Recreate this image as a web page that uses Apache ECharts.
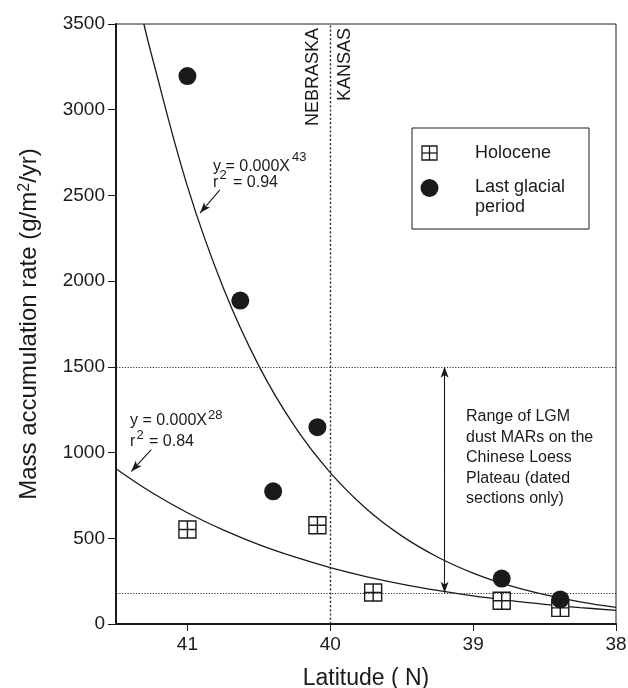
<!DOCTYPE html>
<html><head><meta charset="utf-8">
<script src="https://cdn.jsdelivr.net/npm/echarts@6/dist/echarts.min.js"></script>
<style>html,body{margin:0;padding:0;background:#fff}#c{width:628px;height:688px}</style>
</head><body><div id="c"></div>
<script>
// ---- data ----
const latTicks = [41, 40, 39, 38];
const holoceneLat = [41.00, 40.09, 39.70, 38.80, 38.39];
const holoceneMAR = [551, 576, 184, 136, 94];
const glacialLat = [41.00, 40.63, 40.40, 40.09, 38.80, 38.39];
const glacialMAR = [3196, 1887, 774, 1148, 265, 143];
// fitted curves as drawn
const glacialFitLat = [41.305, 41.25, 41.0, 40.75, 40.5, 40.25, 40.0, 39.75, 39.5, 39.25, 39.0, 38.75, 38.5, 38.25, 38.0];
const glacialFitMAR = [3500, 3316, 2553, 1963, 1506, 1154, 883, 674, 514, 391, 297, 225, 171, 129, 97];
const holoceneFitLat = [41.5, 41.25, 41.0, 40.75, 40.5, 40.25, 40.0, 39.75, 39.5, 39.25, 39.0, 38.75, 38.5, 38.25, 38.0];
const holoceneFitMAR = [906, 767, 649, 549, 463, 391, 329, 277, 233, 196, 164, 138, 115, 96, 80];
// reference lines / annotations (data space)
const loessRange = [182, 1500];
const loessArrowLat = 39.2;
const stateBorderLat = 40;
const glacialEqArrow = [[40.773, 2532], [40.912, 2397]];
const holoceneEqArrow = [[41.253, 1017], [41.393, 890]];

const FONT = "'Liberation Sans', Arial, Helvetica, sans-serif";
const INK = '#1a1a1a';
const zip = (a, b) => a.map((v, i) => [v, b[i]]);
const squareCross = 'path://M0,0H10V10H0Z M5,0V10 M0,5H10';

const chart = echarts.init(document.getElementById('c'), null, {renderer: 'canvas'});

function txt(x, y, text, size, extra) {
  return {
    type: 'text', x: x, y: y, silent: true, z: 11,
    style: Object.assign({
      text: text, fill: INK, font: size + 'px ' + FONT,
      fontSize: size, fontFamily: FONT,
      align: 'left', textAlign: 'left',
      verticalAlign: 'middle', textVerticalAlign: 'middle'
    }, extra || {})
  };
}

const option = {
  animation: false,
  backgroundColor: '#fff',
  grid: {left: 116, right: 12, top: 24, bottom: 64, containLabel: false, outerBoundsMode: 'none',
    show: true, borderColor: INK, borderWidth: 1, backgroundColor: 'transparent'},
  xAxis: {
    type: 'value', inverse: true, min: 38, max: 41.5,
    name: 'Latitude ( N)', nameLocation: 'middle', nameGap: 43,
    nameTextStyle: {fontSize: 23, color: INK, fontFamily: FONT},
    axisLine: {show: true, lineStyle: {color: INK, width: 2}},
    axisTick: {show: true, length: 7, customValues: latTicks, lineStyle: {color: INK, width: 1}},
    axisLabel: {customValues: latTicks, fontSize: 19, color: INK, fontFamily: FONT, margin: 11,
      formatter: v => String(v)},
    splitLine: {show: false}
  },
  yAxis: {
    type: 'value', min: 0, max: 3500, interval: 500,
    name: 'Mass accumulation rate (g/m{sup|2}/yr)', nameLocation: 'middle', nameGap: 75,
    nameTextStyle: {fontSize: 24, color: INK, fontFamily: FONT,
      rich: {sup: {fontSize: 16, color: INK, fontFamily: FONT, verticalAlign: 'top'}}},
    axisLine: {show: true, lineStyle: {color: INK, width: 2}},
    axisTick: {show: true, length: 8, lineStyle: {color: INK, width: 1}},
    axisLabel: {fontSize: 19, color: INK, fontFamily: FONT, margin: 11,
      formatter: v => String(v)},
    splitLine: {show: false}
  },
  series: [
    {
      name: 'Last glacial fit', type: 'line', data: zip(glacialFitLat, glacialFitMAR),
      smooth: 0.4, showSymbol: false, silent: true, z: 2,
      lineStyle: {color: INK, width: 1.3},
      markLine: {
        silent: true, symbol: ['none', 'arrow'], symbolSize: [6, 11],
        label: {show: false},
        lineStyle: {color: INK, width: 1.1, type: 'solid'},
        data: [
          [{coord: glacialEqArrow[0]}, {coord: glacialEqArrow[1]}],
          [{coord: holoceneEqArrow[0]}, {coord: holoceneEqArrow[1]}],
          [{coord: [loessArrowLat, (loessRange[0] + loessRange[1]) / 2]}, {coord: [loessArrowLat, loessRange[1]]}],
          [{coord: [loessArrowLat, (loessRange[0] + loessRange[1]) / 2]}, {coord: [loessArrowLat, loessRange[0]]}]
        ]
      }
    },
    {
      name: 'Holocene fit', type: 'line', data: zip(holoceneFitLat, holoceneFitMAR),
      smooth: 0.4, showSymbol: false, silent: true, z: 2,
      lineStyle: {color: INK, width: 1.3},
      markLine: {
        silent: true, symbol: ['none', 'none'], label: {show: false},
        data: [
          {yAxis: loessRange[1], lineStyle: {color: '#333', width: 1, type: [1.2, 1.6]}},
          {yAxis: loessRange[0], lineStyle: {color: '#333', width: 1, type: [1.2, 1.6]}},
          {xAxis: stateBorderLat, lineStyle: {color: '#333', width: 1.4, type: [2.2, 2]}}
        ]
      }
    },
    {
      name: 'Holocene', type: 'scatter', data: zip(holoceneLat, holoceneMAR),
      symbol: squareCross, symbolSize: 17, z: 4,
      itemStyle: {color: '#fff', borderColor: INK, borderWidth: 1.4, opacity: 1}
    },
    {
      name: 'Last glacial period', type: 'scatter', data: zip(glacialLat, glacialMAR),
      symbol: 'circle', symbolSize: 18, z: 5,
      itemStyle: {color: INK, opacity: 1}
    }
  ],
  graphic: [
    // legend box
    {type: 'rect', silent: true, shape: {x: 412, y: 128, width: 177, height: 101},
     style: {fill: '#fff', stroke: INK, lineWidth: 1}, z: 10},
    {type: 'rect', silent: true, z: 12, shape: {x: 422, y: 146, width: 15, height: 14}, style: {fill: '#fff', stroke: INK, lineWidth: 1.3}},
    {type: 'line', silent: true, z: 12, shape: {x1: 429.5, y1: 146, x2: 429.5, y2: 160}, style: {stroke: INK, lineWidth: 1.3}},
    {type: 'line', silent: true, z: 12, shape: {x1: 422, y1: 153, x2: 437, y2: 153}, style: {stroke: INK, lineWidth: 1.3}},
    {type: 'circle', silent: true, z: 12, shape: {cx: 429.5, cy: 188, r: 9}, style: {fill: INK}},
    txt(475, 153, 'Holocene', 18),
    txt(475, 177, 'Last glacial\nperiod', 18, {verticalAlign: 'top', textVerticalAlign: 'top', lineHeight: 20}),
    // state labels (rotated, read bottom to top)
    Object.assign(txt(313, 28, 'NEBRASKA', 18, {align: 'right', textAlign: 'right'}), {rotation: Math.PI / 2}),
    Object.assign(txt(345, 28, 'KANSAS', 18, {align: 'right', textAlign: 'right'}), {rotation: Math.PI / 2}),
    // glacial equation
    txt(213, 167, 'y = 0.000X', 16),
    txt(292, 157, '43', 13),
    txt(213, 183, 'r', 16),
    txt(219.5, 175, '2', 13),
    txt(233, 182.5, '= 0.94', 16),
    // holocene equation
    txt(130, 421, 'y = 0.000X', 16),
    txt(208, 415, '28', 13),
    txt(130, 441.5, 'r', 16),
    txt(136.5, 435, '2', 13),
    txt(149, 441.5, '= 0.84', 16),
    // loess range note
    txt(466, 406.5, 'Range of LGM\ndust MARs on the\nChinese Loess\nPlateau (dated\nsections only)', 16,
        {verticalAlign: 'top', textVerticalAlign: 'top', lineHeight: 20.5})
  ]
};

chart.setOption(option);
</script>
</body></html>
